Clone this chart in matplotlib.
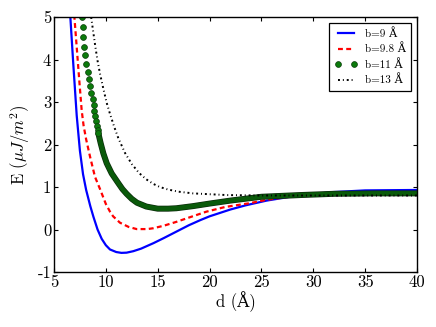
import numpy as np
import matplotlib
matplotlib.use("Agg")
import matplotlib.pyplot as plt
import matplotlib.patheffects as pe

plt.rcParams['font.family'] = ['cmr10', 'DejaVu Serif']
plt.rcParams['mathtext.fontset'] = 'cm'
plt.rcParams['axes.unicode_minus'] = False
plt.rcParams['axes.formatter.use_mathtext'] = True

# ---- data ----
d_b9 = [6.55, 6.86, 7.19, 7.50, 7.80, 8.10, 8.50, 8.80, 9.20, 9.60, 10.0, 10.4, 11.0, 11.5,
        12.0, 12.65, 13.4, 14.6, 15.6, 16.8, 18.0, 19.1, 20.0, 22.0, 23.5, 25.5, 28.0,
        31.9, 35.0, 40.0]
E_b9 = [5.10, 3.89, 2.68, 1.85, 1.30, 0.93, 0.55, 0.30, 0.00, -0.22, -0.37, -0.47, -0.53, -0.55,
        -0.545, -0.51, -0.45, -0.32, -0.20, -0.05, 0.10, 0.22, 0.31, 0.47, 0.57, 0.68, 0.78,
        0.88, 0.92, 0.93]

d_b98 = [6.95, 7.19, 7.44, 7.67, 7.85, 8.10, 8.47, 8.95, 9.44, 9.60, 10.0, 10.4, 10.7, 11.36,
         12.2, 12.97, 14.0, 14.58, 15.6, 16.8, 18.0, 19.7, 21.5, 23.9, 25.5, 28.0, 32.0,
         36.0, 40.0]
E_b98 = [5.05, 4.29, 3.50, 2.80, 2.45, 2.12, 1.72, 1.24, 0.95, 0.85, 0.60, 0.42, 0.31, 0.16,
         0.06, 0.01, 0.01, 0.03, 0.09, 0.18, 0.28, 0.42, 0.53, 0.62, 0.70, 0.78, 0.84,
         0.86, 0.87]

# b = 11 : separate dots on the steep branch, merged dots elsewhere
d_b11_dots = [7.70, 7.77, 7.83, 7.92, 8.02, 8.12, 8.25, 8.34, 8.44, 8.57, 8.73, 8.82, 8.90,
              8.97, 9.04, 9.12, 9.20, 9.28]
E_b11_dots = [5.00, 4.76, 4.52, 4.30, 4.10, 3.89, 3.70, 3.53, 3.38, 3.22, 3.06, 2.93, 2.80,
              2.67, 2.55, 2.44, 2.35, 2.26]
d_b11 = [9.28, 9.50, 9.76, 10.08, 10.56, 11.2, 11.6, 12.0, 12.5, 13.0, 13.9, 15.0, 16.0,
         16.8, 18.4, 20.0, 22.0, 25.0, 28.7, 32.0, 36.0, 40.0]
E_b11 = [2.26, 2.03, 1.79, 1.56, 1.32, 1.09, 0.95, 0.84, 0.72, 0.63, 0.54, 0.49, 0.49,
         0.50, 0.55, 0.61, 0.68, 0.77, 0.81, 0.84, 0.85, 0.85]

d_b13 = [8.58, 8.80, 9.00, 9.20, 9.44, 9.76, 10.08, 10.4, 10.8, 11.2, 11.85, 12.5, 13.2,
         13.9, 14.6, 15.2, 16.0, 17.0, 18.4, 20.0, 21.7, 25.0, 30.0, 35.0, 40.0]
E_b13 = [5.00, 4.62, 4.28, 3.97, 3.66, 3.31, 2.98, 2.72, 2.42, 2.15, 1.80, 1.54, 1.33,
         1.18, 1.07, 1.00, 0.94, 0.89, 0.85, 0.83, 0.81, 0.80, 0.80, 0.80, 0.80]

labels = ['b=9 Å', 'b=9.8 Å', 'b=11 Å', 'b=13 Å']
xticks = [5, 10, 15, 20, 25, 30, 35, 40]
yticks = [-1, 0, 1, 2, 3, 4, 5]
ytick_labels = ['-1', '0', '1', '2', '3', '4', '5']

fig = plt.figure(figsize=(4.36, 3.27), dpi=100)
ax = fig.add_axes([54/436, 1-272/327, (417-54)/436, (272-17)/327])

ax.plot(d_b9, E_b9, color='blue', lw=1.6, label=labels[0])
ax.plot(d_b98, E_b98, color='red', lw=1.6, dashes=(2.2, 1.5), label=labels[1])
ax.plot(d_b11, E_b11, color='#0a5a0a', lw=3.3, solid_capstyle='round',
        path_effects=[pe.Stroke(linewidth=4.3, foreground='#0b2b0b'), pe.Normal()])
ax.plot(d_b11_dots, E_b11_dots, linestyle='none', marker='o', markersize=4.2,
        markerfacecolor='#0b7a0b', markeredgecolor='#0b3b0b', markeredgewidth=0.5,
        label=labels[2])
ax.plot(d_b13, E_b13, color='black', lw=1.4, dashes=(1.0, 1.5, 0.5, 1.5), label=labels[3])

ax.set_xlim(5, 40)
ax.set_ylim(-1, 5)
ax.set_xticks(xticks)
ax.set_xticklabels([str(t) for t in xticks])
ax.set_yticks(yticks)
ax.set_yticklabels(ytick_labels)
ax.tick_params(direction='in', length=3, width=0.8, labelsize=12, top=True, right=True, pad=2)
for s in ax.spines.values():
    s.set_linewidth(1.0)

ax.set_xlabel('d (Å)', fontsize=12, labelpad=1)
ax.set_ylabel(r'E ($\mu J/m^2$)', fontsize=12, labelpad=4)

leg = ax.legend(loc='upper right', fontsize=8, numpoints=2, handlelength=2.0,
                fancybox=False, framealpha=1, edgecolor='black', borderaxespad=0.5,
                labelspacing=0.42, borderpad=0.5, handletextpad=0.7)
leg.get_frame().set_linewidth(0.9)

fig.savefig('out.png', dpi=100)
